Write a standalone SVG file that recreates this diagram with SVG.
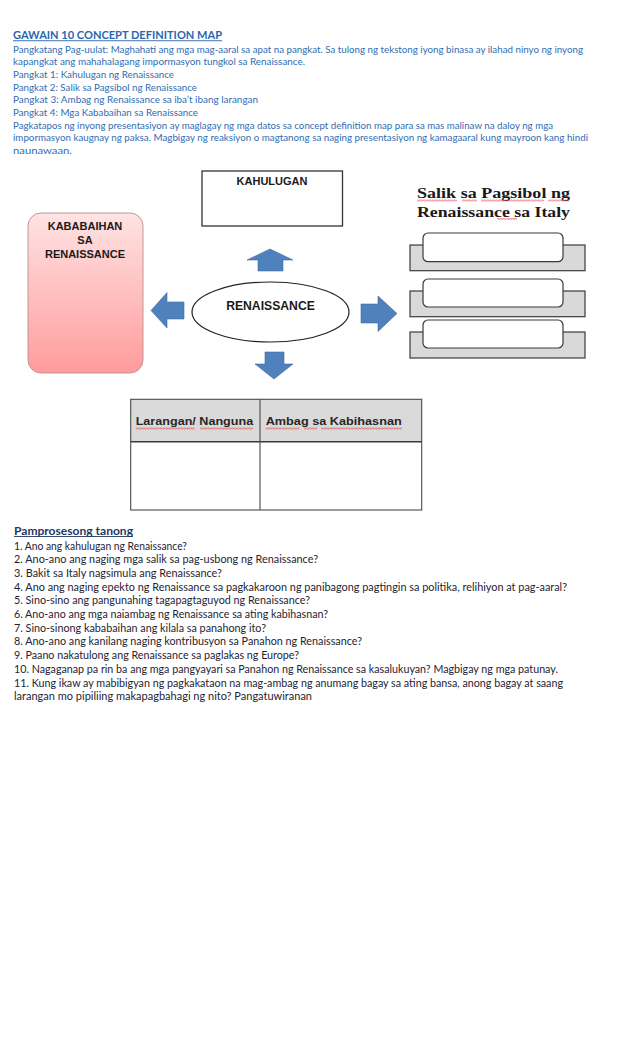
<svg xmlns="http://www.w3.org/2000/svg" width="638" height="1051" viewBox="0 0 638 1051">
<defs>
<linearGradient id="pink" x1="0" y1="0" x2="0" y2="1">
<stop offset="0" stop-color="#FFE3E3"/>
<stop offset="1" stop-color="#FF9C9C"/>
</linearGradient>
<pattern id="wavy" width="3" height="2" patternUnits="userSpaceOnUse">
<path d="M0,1.6 L0.75,0.4 L1.5,1.6 L2.25,0.4 L3,1.6" fill="none" stroke="#E03030" stroke-width="0.6"/>
</pattern>
<style>
.intro{font-family:Lato,"Open Sans",sans-serif;font-size:9.3px;fill:#2F6DB3}
.title{font-family:Lato,"Open Sans",sans-serif;font-size:11px;font-weight:bold;fill:#2A66AC}
.q{font-family:Lato,"Open Sans",sans-serif;font-size:10.6px;fill:#1E2434}
.qt{font-family:Lato,"Open Sans",sans-serif;font-size:11px;font-weight:bold;fill:#1F3864}
.lbl{font-family:"Liberation Sans",Arial,sans-serif;font-size:11px;font-weight:bold;fill:#1A1A1A}
.serif{font-family:"Liberation Serif","Times New Roman",serif;font-size:14px;font-weight:bold;fill:#1A1A1A}
.box{fill:#FFFFFF;stroke:#333333;stroke-width:1.3}
.tray{fill:#D9D9D9;stroke:#3A3A3A;stroke-width:1.2}
.slot{fill:#FFFFFF;stroke:#3A3A3A;stroke-width:1.2}
.arrow{fill:#4F81BD;stroke:#3F6DA3;stroke-width:0.6}
.wv{fill:url(#wavy)}
</style>
</defs>

<g id="intro">
<text class="title" x="13" y="39" textLength="209" lengthAdjust="spacingAndGlyphs">GAWAIN 10 CONCEPT DEFINITION MAP</text>
<rect x="13" y="40.3" width="209" height="0.9" fill="#2A66AC"/>
<text class="intro" x="13" y="52.5" textLength="570" lengthAdjust="spacingAndGlyphs">Pangkatang Pag-uulat: Maghahati ang mga mag-aaral sa apat na pangkat. Sa tulong ng tekstong iyong binasa ay ilahad ninyo ng inyong</text>
<text class="intro" x="13" y="65.2" textLength="292" lengthAdjust="spacingAndGlyphs">kapangkat ang mahahalagang impormasyon tungkol sa Renaissance.</text>
<text class="intro" x="13" y="77.9" textLength="161" lengthAdjust="spacingAndGlyphs">Pangkat 1: Kahulugan ng Renaissance</text>
<text class="intro" x="13" y="90.6" textLength="184" lengthAdjust="spacingAndGlyphs">Pangkat 2: Salik sa Pagsibol ng Renaissance</text>
<text class="intro" x="13" y="103.3" textLength="245" lengthAdjust="spacingAndGlyphs">Pangkat 3: Ambag ng Renaissance sa iba’t ibang larangan</text>
<text class="intro" x="13" y="116" textLength="185" lengthAdjust="spacingAndGlyphs">Pangkat 4: Mga Kababaihan sa Renaissance</text>
<text class="intro" x="13" y="128.7" textLength="540" lengthAdjust="spacingAndGlyphs">Pagkatapos ng inyong presentasiyon ay maglagay ng mga datos sa concept definition map para sa mas malinaw na daloy ng mga</text>
<text class="intro" x="13" y="141.4" textLength="575" lengthAdjust="spacingAndGlyphs">impormasyon kaugnay ng paksa. Magbigay ng reaksiyon o magtanong sa naging presentasiyon ng kamagaaral kung mayroon kang hindi</text>
<text class="intro" x="13" y="154.1" textLength="59" lengthAdjust="spacingAndGlyphs">naunawaan.</text>
</g>

<g id="kahulugan">
<rect class="box" x="202" y="171" width="140.5" height="55"/>
<text class="lbl" x="272" y="185" text-anchor="middle">KAHULUGAN</text>
</g>

<g id="kababaihan">
<rect x="28" y="213" width="115" height="160" rx="13" fill="url(#pink)" stroke="#B89090" stroke-width="0.9"/>
<text class="lbl" x="85" y="230" text-anchor="middle">KABABAIHAN</text>
<text class="lbl" x="85" y="244" text-anchor="middle">SA</text>
<text class="lbl" x="85" y="258" text-anchor="middle">RENAISSANCE</text>
</g>

<g id="renaissance">
<ellipse cx="270.5" cy="312" rx="78.5" ry="30" fill="#FFFFFF" stroke="#222222" stroke-width="1.2"/>
<text class="lbl" x="270.5" y="310" text-anchor="middle" style="font-size:12.2px">RENAISSANCE</text>
</g>

<g id="salik">
<text class="serif" x="417" y="198" textLength="153" lengthAdjust="spacingAndGlyphs">Salik sa Pagsibol ng</text>
<text class="serif" x="417" y="216.5" textLength="153" lengthAdjust="spacingAndGlyphs">Renaissance sa Italy</text>
<rect class="wv" x="417" y="199.5" width="40" height="2"/>
<rect class="wv" x="462" y="199.5" width="15" height="2"/>
<rect class="wv" x="481" y="199.5" width="63" height="2"/>
<rect class="wv" x="548" y="199.5" width="21" height="2"/>
<rect class="wv" x="497" y="218" width="20" height="2"/>
<rect class="tray" x="410" y="245" width="175" height="25.7"/>
<rect class="slot" x="423" y="233" width="140" height="28.7" rx="5"/>
<rect class="tray" x="410" y="291" width="175" height="25.7"/>
<rect class="slot" x="423" y="279" width="140" height="28" rx="5"/>
<rect class="tray" x="410" y="332" width="175" height="26"/>
<rect class="slot" x="423" y="320" width="140" height="28" rx="5"/>
</g>

<g id="table">
<rect x="130.7" y="399.3" width="291" height="42.4" fill="#DADADA"/>
<rect x="130.7" y="441.7" width="291" height="68.3" fill="#FFFFFF"/>
<rect x="130.7" y="399.3" width="291" height="110.7" fill="none" stroke="#4A4A4A" stroke-width="1.1"/>
<line x1="130.7" y1="441.7" x2="421.7" y2="441.7" stroke="#3A3A3A" stroke-width="1.5"/>
<line x1="260" y1="399.3" x2="260" y2="510" stroke="#4A4A4A" stroke-width="1.1"/>
<text class="lbl" x="135.7" y="425" textLength="117.5" lengthAdjust="spacingAndGlyphs" style="fill:#262626">Larangan/ Nanguna</text>
<text class="lbl" x="265.7" y="425" textLength="136" lengthAdjust="spacingAndGlyphs" style="fill:#262626">Ambag sa Kabihasnan</text>
<rect class="wv" x="135.7" y="427.5" width="59" height="2"/>
<rect class="wv" x="200" y="427.5" width="53" height="2"/>
<rect class="wv" x="265.7" y="427.5" width="34" height="2"/>
<rect class="wv" x="304" y="427.5" width="13" height="2"/>
<rect class="wv" x="321" y="427.5" width="81" height="2"/>
</g>

<g id="connectors">
<path class="arrow" d="M270,249 L293,260 L283,260 L283,271 L258,271 L258,260 L247,260 Z"/>
<path class="arrow" d="M151,310.5 L167,292.5 L167,302 L184,302 L184,319 L167,319 L167,328 Z"/>
<path class="arrow" d="M397,313.5 L378,296 L378,304 L361,304 L361,323 L378,323 L378,331.5 Z"/>
<path class="arrow" d="M274,379 L293,364 L284,364 L284,352 L265,352 L265,364 L255,364 Z"/>
</g>

<g id="questions">
<text class="qt" x="14" y="534.5" textLength="119" lengthAdjust="spacingAndGlyphs">Pamprosesong tanong</text>
<rect x="14" y="536" width="119" height="0.9" fill="#1F3864"/>
<text class="q" x="14" y="549.5" textLength="173" lengthAdjust="spacingAndGlyphs">1. Ano ang kahulugan ng Renaissance?</text>
<text class="q" x="14" y="563.2" textLength="304" lengthAdjust="spacingAndGlyphs">2. Ano-ano ang naging mga salik sa pag-usbong ng Renaissance?</text>
<text class="q" x="14" y="576.9" textLength="208" lengthAdjust="spacingAndGlyphs">3. Bakit sa Italy nagsimula ang Renaissance?</text>
<text class="q" x="14" y="590.6" textLength="553" lengthAdjust="spacingAndGlyphs">4. Ano ang naging epekto ng Renaissance sa pagkakaroon ng panibagong pagtingin sa politika, relihiyon at pag-aaral?</text>
<text class="q" x="14" y="604.3" textLength="296" lengthAdjust="spacingAndGlyphs">5. Sino-sino ang pangunahing tagapagtaguyod ng Renaissance?</text>
<text class="q" x="14" y="618" textLength="314" lengthAdjust="spacingAndGlyphs">6. Ano-ano ang mga naiambag ng Renaissance sa ating kabihasnan?</text>
<text class="q" x="14" y="631.7" textLength="252" lengthAdjust="spacingAndGlyphs">7. Sino-sinong kababaihan ang kilala sa panahong ito?</text>
<text class="q" x="14" y="645.4" textLength="348" lengthAdjust="spacingAndGlyphs">8. Ano-ano ang kanilang naging kontribusyon sa Panahon ng Renaissance?</text>
<text class="q" x="14" y="659.1" textLength="285" lengthAdjust="spacingAndGlyphs">9. Paano nakatulong ang Renaissance sa paglakas ng Europe?</text>
<text class="q" x="14" y="672.8" textLength="544" lengthAdjust="spacingAndGlyphs">10. Nagaganap pa rin ba ang mga pangyayari sa Panahon ng Renaissance sa kasalukuyan? Magbigay ng mga patunay.</text>
<text class="q" x="14" y="686.5" textLength="549" lengthAdjust="spacingAndGlyphs">11. Kung ikaw ay mabibigyan ng pagkakataon na mag-ambag ng anumang bagay sa ating bansa, anong bagay at saang</text>
<text class="q" x="14" y="700.2" textLength="298" lengthAdjust="spacingAndGlyphs">larangan mo pipiliing makapagbahagi ng nito? Pangatuwiranan</text>
</g>
</svg>
